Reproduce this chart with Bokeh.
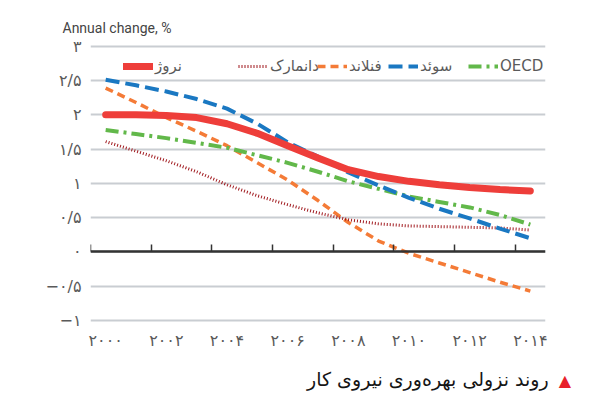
from bokeh.plotting import figure
from bokeh.models import Range1d, LinearAxis, FixedTicker, Legend, LegendItem, Div
from bokeh.layouts import column
from bokeh.embed import file_html
from bokeh.resources import INLINE

years = list(range(2000, 2015))
norway = [2.00, 2.00, 1.99, 1.96, 1.87, 1.73, 1.55, 1.37, 1.20, 1.10, 1.03, 0.98, 0.94, 0.91, 0.89]
denmark = [1.61, 1.47, 1.33, 1.17, 0.98, 0.82, 0.69, 0.57, 0.47, 0.41, 0.38, 0.37, 0.36, 0.35, 0.32]
finland = [2.39, 2.18, 1.96, 1.76, 1.55, 1.30, 1.05, 0.75, 0.43, 0.16, -0.02, -0.16, -0.30, -0.44, -0.57]
sweden = [2.51, 2.43, 2.34, 2.23, 2.09, 1.87, 1.60, 1.39, 1.16, 0.97, 0.79, 0.63, 0.49, 0.34, 0.20]
oecd = [1.78, 1.72, 1.66, 1.59, 1.52, 1.41, 1.30, 1.17, 1.03, 0.92, 0.81, 0.73, 0.65, 0.54, 0.40]

series_names = ["نروژ", "دانمارک", "فنلاند", "سوئد", "OECD"]

x_label_years = [2000, 2002, 2004, 2006, 2008, 2010, 2012, 2014]
x_labels = ["۲۰۰۰", "۲۰۰۲", "۲۰۰۴", "۲۰۰۶", "۲۰۰۸", "۲۰۱۰", "۲۰۱۲", "۲۰۱۴"]
y_ticks = [-1, -0.5, 0, 0.5, 1, 1.5, 2, 2.5, 3]
y_labels = ["−۱", "−۰/۵", "۰", "۰/۵", "۱", "۱/۵", "۲", "۲/۵", "۳"]

title_text = "Annual change, %"
caption_text = "روند نزولی بهره‌وری نیروی کار"

GRAY = "#5a5a5a"
PFONT = "DejaVu Sans"

p = figure(width=600, height=364, output_backend="svg", toolbar_location=None,
           x_range=Range1d(1999.5, 2014.5), y_range=Range1d(-1.13, 3.098),
           min_border_left=90, min_border_right=55, min_border_top=39, min_border_bottom=35,
           background_fill_color="white", border_fill_color="white")
p.outline_line_color = None

# title
p.title.text = title_text
p.title.text_font = "Roboto"
p.title.text_font_size = "14px"
p.title.text_font_style = "normal"
p.title.text_color = "#444444"
p.title.align = "left"
p.title.offset = -28
p.title.standoff = 8

# x label axis (labels at year centres)
xa = p.xaxis[0]
xa.ticker = FixedTicker(ticks=x_label_years)
xa.major_label_overrides = {y: l for y, l in zip(x_label_years, x_labels)}
xa.axis_line_color = None
xa.major_tick_line_color = None
xa.minor_tick_line_color = None
xa.major_tick_out = 0
xa.major_label_standoff = 1
xa.major_label_text_font = PFONT
xa.major_label_text_font_size = "16px"
xa.major_label_text_color = GRAY

# zero axis with boundary ticks
boundaries = [y - 0.5 for y in x_label_years]
za = LinearAxis(fixed_location=0, ticker=FixedTicker(ticks=boundaries))
za.major_label_overrides = {b: "" for b in boundaries}
za.axis_line_color = "#333333"
za.axis_line_width = 2.5
za.major_tick_line_color = "#333333"
za.major_tick_line_width = 1.5
za.major_tick_in = 7
za.major_tick_out = 0
za.minor_tick_line_color = None
p.add_layout(za, "below")

# y axis
ya = p.yaxis[0]
ya.ticker = FixedTicker(ticks=y_ticks)
ya.major_label_overrides = {t: l for t, l in zip(y_ticks, y_labels)}
ya.axis_line_color = None
ya.major_tick_line_color = None
ya.minor_tick_line_color = None
ya.major_tick_out = 0
ya.major_label_standoff = 9
ya.major_label_text_font = PFONT
ya.major_label_text_font_size = "16px"
ya.major_label_text_color = GRAY

p.xgrid.grid_line_color = None
p.ygrid.grid_line_color = "#c9cdd2"
p.ygrid.grid_line_width = 2

r_fin = p.line(years, finland, line_color="#f47b37", line_width=3.5, line_dash="8 5")
r_den = p.line(years, denmark, line_color="#a0191e", line_width=3, line_dash="1 2")
r_oecd = p.line(years, oecd, line_color="#62b84a", line_width=4, line_dash="13 5 3 5")
r_swe = p.line(years, sweden, line_color="#1a78c2", line_width=4, line_dash="14 6")
r_nor = p.line(years, norway, line_color="#ee3e3a", line_width=7, line_cap="round", line_join="round")

renderers = [r_nor, r_den, r_fin, r_swe, r_oecd]
legend_x = [33, 148, 227, 298, 378]
for name, r, lx in zip(series_names, renderers, legend_x):
    lg = Legend(items=[LegendItem(label=name, renderers=[r])], location=(lx, 254),
                orientation="horizontal", padding=0, margin=0, spacing=0,
                glyph_width=30, glyph_height=14, label_height=14, label_standoff=2,
                label_text_font=PFONT, label_text_font_size="15px", label_text_color=GRAY,
                border_line_color=None, background_fill_alpha=0)
    p.add_layout(lg, "center")

caption = Div(
    text=('<div style="width:566px; direction:rtl; text-align:right; white-space:nowrap;">'
          '<span style="color:#e8202a; font-size:16px; margin-left:10px;">▲</span>'
          f'<span>{caption_text}</span></div>'),
    width=600, height=36,
    styles={"font-family": "DejaVu Sans", "font-size": "19px", "color": "#151515",
            "line-height": "20px"})

layout = column(p, caption, spacing=0)
open("out.html", "w").write(file_html(layout, INLINE))
